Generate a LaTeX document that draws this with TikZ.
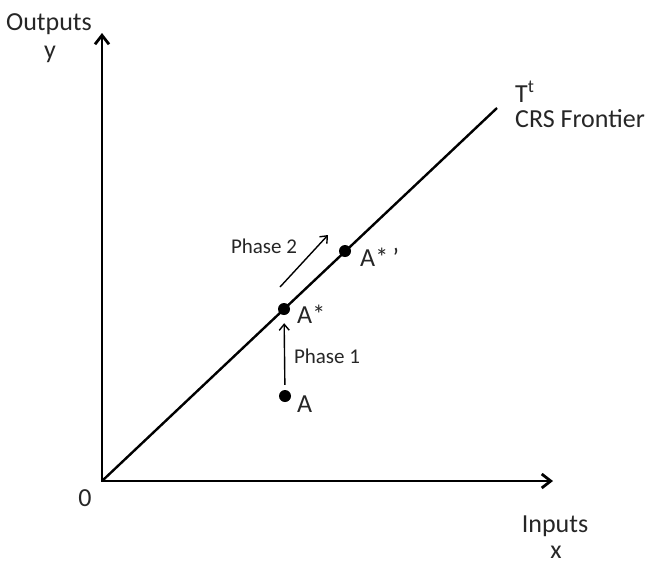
\documentclass[tikz,border=0pt]{standalone}
\usepackage{fontspec}
\setmainfont{Carlito}
\usetikzlibrary{arrows.meta}

\begin{document}
\begin{tikzpicture}[x=1pt,y=-1pt,
        dot/.style={circle, fill=black, inner sep=0pt, minimum size=12pt},
        big/.style={font=\fontsize{26}{30}\selectfont, text=black!85, anchor=base, inner sep=0pt},
        small/.style={font=\fontsize{21}{25}\selectfont, text=black!85, anchor=base, inner sep=0pt}]
        \useasboundingbox (0,0) rectangle (645,566);

        \coordinate (ytop) at (102,33);
        \coordinate (O) at (102,481);
        \coordinate (xend) at (553,481);
        \coordinate (Tend) at (497,108);

        \draw[line width=2.8pt, {Straight Barb[length=9pt,width=14pt]}-{Straight Barb[length=9pt,width=14pt]}]
        (ytop) -- (O) -- (xend);
        \draw[line width=2.4pt] (O) -- (Tend);

        \node[big] (outl) at (49,30) {Outputs};
        \node[big] (yl) at (50,58) {y};
        \node[big] (inl) at (555,532) {Inputs};
        \node[big] (xl) at (556,558) {x};
        \node[big] (zero) at (85,506) {0};
        \node[big, anchor=base west] (tlab) at (515,102) {T\textsuperscript{t}};
        \node[big, anchor=base west] (crs) at (515,127) {CRS Frontier};

        \node[dot] (A) at (285,396) {};
        \node[dot] (Astar) at (284,309) {};
        \node[dot] (Aprime) at (345,251) {};
        \node[big, anchor=base west] (Alab) at (297,412) {A};
        \node[big, anchor=base west] (Astarlab) at (297,323) {A*};
        \node[big, anchor=base west] (Aprimelab) at (360,266) {A*\,’};

        % phase 1
        \draw[line width=1.4pt, -{Straight Barb[length=6pt,width=10pt]}, shorten <=5pt, shorten >=8pt]
        (A) -- (Astar);
        \node[small] (p1) at (327,363) {Phase 1};

        % phase 2
        \coordinate (p2s) at (280,287);
        \coordinate (p2e) at (328,235);
        \draw[line width=1.4pt, -{Straight Barb[length=6pt,width=10pt]}] (p2s) -- (p2e);
        \node[small] (p2) at (264,253) {Phase 2};
    \end{tikzpicture}
\end{document}
